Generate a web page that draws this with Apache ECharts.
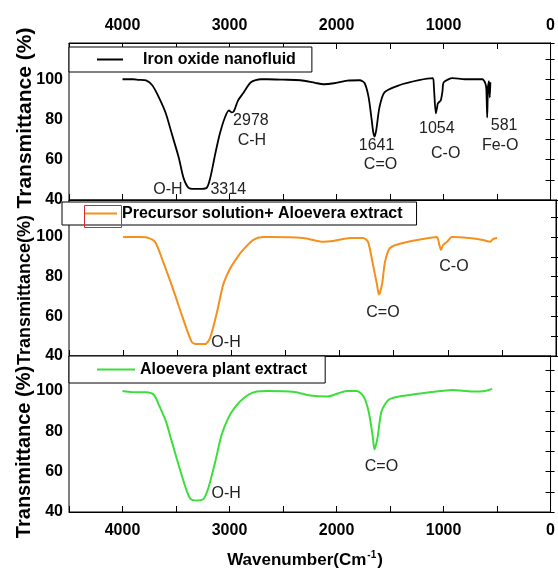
<!DOCTYPE html>
<html>
<head>
<meta charset="utf-8">
<script src="https://cdn.jsdelivr.net/npm/echarts@6/dist/echarts.min.js"></script>
<style>
html,body{margin:0;padding:0;background:#fff;}
#chart{width:558px;height:572px;}
</style>
</head>
<body>
<div id="chart"></div>
<script>
// ---------------- DATA ----------------
const seriesNames = ["Iron oxide nanofluid", "Precursor solution+ Aloevera extract", "Aloevera plant extract"];
const xTickValues = [0, 1000, 2000, 3000, 4000];
const yTickValues = [40, 60, 80, 100];

const waveIron = [4000,3900,3850,3780,3722,3660,3595,3540,3474,3430,3382,3330,3290,3215,3180,3133,3090,3043,3005,2978,2960,2920,2873,2800,2707,2643,2500,2338,2200,2116,2024,1900,1783,1737,1700,1672,1658,1645,1628,1599,1552,1414,1229,1100,1090,1072,1060,1053,1026,1010,998,915,800,700,638,610,600,592,585,575,568,562];
const transIron = [100,100,99.7,99.4,97,91,83,73,61,51,46,45.5,45.5,46,51,63,73,81,84.5,83.5,84,89.5,93,98.5,100,100,99.8,99.5,98.2,97.5,98,99.3,99.5,98,91,80,74,71.5,75,86,93.5,97,99.5,100.5,96,83,86,88,89.5,94,98.5,100.5,100,100,100,98,95,81,96,99,91,98.5];

const wavePrec = [4000,3850,3780,3705,3630,3540,3447,3365,3318,3243,3197,3133,3075,3012,2948,2892,2800,2707,2643,2338,2200,2153,2060,1900,1783,1737,1691,1654,1636,1608,1580,1534,1414,1229,1100,1090,1063,1044,1007,961,800,675,610,582,545];
const transPrec = [100,100,99.8,97.6,87.5,74,59,47,46,46,49,62,76,84,89.5,93.5,98.5,100,100,99.5,98,97.6,98,99.5,99.5,97.6,86,76,71,76,87.5,94.5,97,99,100,99,93.5,96,97.6,100,99.5,98.5,97.6,99,99.5];

const waveAloe = [4000,3909,3780,3705,3660,3595,3540,3474,3410,3365,3308,3243,3197,3133,3075,3012,2948,2855,2763,2643,2393,2245,2088,1904,1811,1747,1700,1663,1645,1617,1580,1515,1414,1100,915,730,610,545];
const transAloe = [100,99.4,99.3,98,93,85,75,63,52,46.5,45.7,46.5,52,65,78,86.5,92,97,99.5,100,99.5,97.7,97.2,100,100,97.2,89.8,78,71,76.7,89.8,95.5,97.2,99.5,100.5,99.7,100,101];

// annotations: [text, wavenumber, transmittance]
const notesIron = [["O-H",3576,45],["3314",3012,45],["2978",2800,79.5],["C-H",2791,69.5],["1641",1626,67],["C=O",1589,57.5],["1054",1063,75.5],["C-O",980,63],["581",434,77],["Fe-O",471,67]];
const notesPrec = [["O-H",3049,47],["C=O",1599,62],["C-O",943,85]];
const notesAloe = [["O-H",3031,49],["C=O",1580,62.4]];

// ---------------- LAYOUT / STYLE ----------------
const FONT = "'Liberation Sans', Arial, sans-serif";
const colors = ["#000000", "#f5901c", "#3ddd3d"];
const gridTops = [43, 200, 356];
const gridHeights = [157, 156, 156];
const yMaxes = [118, 118.7, 117.3];

const chart = echarts.init(document.getElementById('chart'), null, {renderer: 'canvas'});

const grids = gridTops.map((t, i) => ({
  left: 69, top: t, width: 487, height: gridHeights[i],
  show: true, borderColor: '#000', borderWidth: 1, backgroundColor: 'transparent', containLabel: false
}));

function xLabelFmt(v) { return xTickValues.indexOf(v) >= 0 ? String(v) : ''; }
function yLabelFmt(v) { return yTickValues.indexOf(v) >= 0 ? String(v) : ''; }

const xAxes = [];
for (let i = 0; i < 3; i++) {
  xAxes.push({
    type: 'value', gridIndex: i, position: 'bottom', inverse: true, min: 0, max: 4500, interval: 500,
    axisLine: {show: true, lineStyle: {color: '#000', width: 1}},
    axisTick: {show: true, inside: true, length: 6, lineStyle: {color: '#000'}},
    axisLabel: {show: i === 2, formatter: xLabelFmt, margin: 11, fontSize: 16, fontWeight: 'bold', color: '#000', fontFamily: FONT},
    splitLine: {show: false}
  });
}
xAxes.push({
  type: 'value', gridIndex: 0, position: 'top', inverse: true, min: 0, max: 4500, interval: 500,
  axisLine: {show: true, lineStyle: {color: '#000', width: 1}},
  axisTick: {show: true, inside: true, length: 6, lineStyle: {color: '#000'}},
  axisLabel: {show: true, formatter: xLabelFmt, margin: 9, fontSize: 16, fontWeight: 'bold', color: '#000', fontFamily: FONT},
  splitLine: {show: false}
});

const yAxes = [];
for (let i = 0; i < 3; i++) {
  yAxes.push({
    type: 'value', gridIndex: i, position: 'left', min: 40, max: yMaxes[i], interval: 10,
    axisLine: {show: true, lineStyle: {color: '#000', width: 1}},
    axisTick: {show: true, inside: true, length: 4, lineStyle: {color: '#000'}},
    axisLabel: {show: true, formatter: yLabelFmt, margin: 6, fontSize: 16, fontWeight: 'bold', color: '#000', fontFamily: FONT},
    splitLine: {show: false}
  });
}
for (let i = 0; i < 3; i++) {
  yAxes.push({
    type: 'value', gridIndex: i, position: 'right', min: 40, max: yMaxes[i], interval: 10,
    axisLine: {show: true, lineStyle: {color: '#000', width: 1}},
    axisTick: {show: true, inside: true, length: 5, lineStyle: {color: '#000'}},
    axisLabel: {show: false},
    splitLine: {show: false}
  });
}

function zip(a, b) { return a.map((v, i) => [v, b[i]]); }
function notes(list) {
  return {
    symbol: 'circle', symbolSize: 1, itemStyle: {color: 'rgba(0,0,0,0)'},
    label: {show: true, position: 'inside', formatter: '{b}', fontSize: 16, color: '#222', fontFamily: FONT},
    data: list.map(n => ({name: n[0], coord: [n[1], n[2]]}))
  };
}

const dataSets = [zip(waveIron, transIron), zip(wavePrec, transPrec), zip(waveAloe, transAloe)];
const noteSets = [notesIron, notesPrec, notesAloe];

const series = dataSets.map((d, i) => ({
  name: seriesNames[i], type: 'line', xAxisIndex: i, yAxisIndex: i,
  data: d, symbol: 'none', smooth: 0.25,
  lineStyle: {color: colors[i], width: i === 0 ? 1.8 : 2},
  itemStyle: {color: colors[i]},
  markPoint: notes(noteSets[i]),
  animation: false
}));

const legendBase = {
  orient: 'horizontal', selectedMode: false, icon: 'rect', itemHeight: 2,
  backgroundColor: '#fff', borderColor: '#000', borderWidth: 1, borderRadius: 0,
  textStyle: {fontSize: 16, fontWeight: 'bold', color: '#000', fontFamily: FONT, lineHeight: 17},
  z: 10
};
const legends = [
  Object.assign({}, legendBase, {data: [seriesNames[0]], left: 69, top: 47, itemWidth: 26, padding: [4, 16, 4, 28],
    textStyle: Object.assign({}, legendBase.textStyle, {padding: [0, 0, 0, 15]})}),
  Object.assign({}, legendBase, {data: [seriesNames[1]], left: 62, top: 202, itemWidth: 33, padding: [3, 14, 3, 22]}),
  Object.assign({}, legendBase, {data: [seriesNames[2]], left: 69, top: 356, itemWidth: 38, padding: [5, 18, 5, 28]})
];

const graphics = [
  {type: 'rect', left: 82, top: 203, shape: {width: 37, height: 22}, style: {fill: 'none', stroke: '#d8282f', lineWidth: 1}, z: 100},
  {type: 'text', x: 25, y: 118, rotation: Math.PI / 2, style: {text: 'Transmittance (%)', font: 'bold 21px ' + FONT, fill: '#000', textAlign: 'center', textVerticalAlign: 'middle'}, z: 50},
  {type: 'text', x: 25, y: 290, rotation: Math.PI / 2, style: {text: 'Transmittance(%)', font: 'bold 18px ' + FONT, fill: '#000', textAlign: 'center', textVerticalAlign: 'middle'}, z: 50},
  {type: 'text', x: 24, y: 452, rotation: Math.PI / 2, style: {text: 'Transmittance (%)', font: 'bold 20px ' + FONT, fill: '#000', textAlign: 'center', textVerticalAlign: 'middle'}, z: 50},
  {type: 'text', x: 305, y: 560, style: {
    text: '{a|Wavenumber(Cm}{s|-1}{a|)}',
    rich: {
      a: {fontSize: 17, fontWeight: 'bold', fontFamily: FONT, fill: '#000', color: '#000'},
      s: {fontSize: 10, fontWeight: 'bold', fontFamily: FONT, fill: '#000', color: '#000', verticalAlign: 'top', padding: [0, 1, 10, 1]}
    },
    textAlign: 'center', textVerticalAlign: 'middle'}, z: 50}
];

chart.setOption({
  backgroundColor: '#fff',
  animation: false,
  grid: grids,
  xAxis: xAxes,
  yAxis: yAxes,
  legend: legends,
  series: series,
  graphic: graphics
});
</script>
</body>
</html>
